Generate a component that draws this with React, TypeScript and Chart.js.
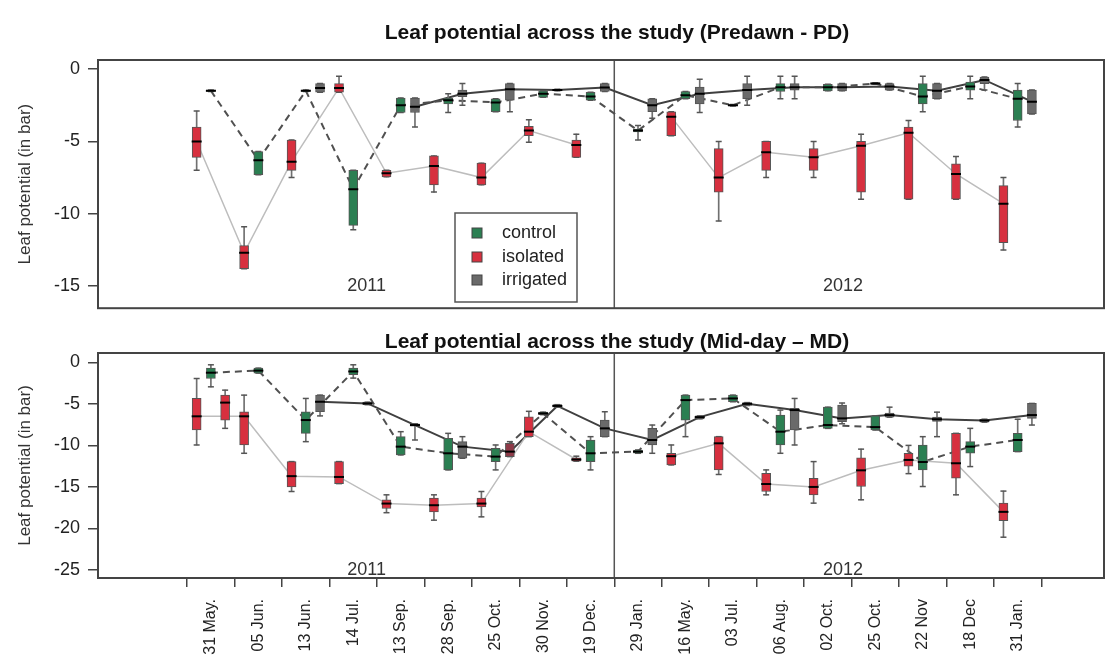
import React, { useEffect, useRef } from 'react';
import { Chart, registerables } from 'chart.js';

Chart.register(...registerables);
Chart.defaults.font.family = "'Liberation Sans', Arial, Helvetica, sans-serif";

// ---------- categories / ticks ----------
const dateLabels = [
  '31 May.', '05 Jun.', '13 Jun.', '14 Jul.', '13 Sep.', '28 Sep.', '25 Oct.', '30 Nov.', '19 Dec.',
  '29 Jan.', '16 May.', '03 Jul.', '06 Aug.', '02 Oct.', '25 Oct.', '22 Nov', '18 Dec', '31 Jan.',
];
const treatmentNames = ['control', 'isolated', 'irrigated'];
const topYTicks = [0, -5, -10, -15];
const bottomYTicks = [0, -5, -10, -15, -20, -25];
const yearLabels = ['2011', '2012'];
const yearCenters = [3.28, 13.32];
const yearBreak = 8.5;

// ---------- Predawn (PD) ----------
const pdIsoMed = [-5.0, -12.7, -6.4, -1.3, -7.2, -6.7, -7.5, -4.25, -5.25, null, -3.3, -7.5, -5.75, -6.1, -5.3, -4.4, -7.25, -9.3];
const pdIsoQ1 = [-6.1, -13.8, -7.0, -1.6, -7.45, -8.0, -8.0, -4.6, -6.1, null, -4.6, -8.5, -7.0, -7.0, -8.5, -9.0, -9.0, -12.0];
const pdIsoQ3 = [-4.0, -12.2, -4.9, -1.0, -7.0, -6.0, -6.5, -3.95, -4.9, null, -2.95, -5.5, -5.0, -5.5, -5.0, -4.0, -6.55, -8.05];
const pdIsoLo = [-7.0, -13.8, -7.5, -1.6, -7.45, -8.5, -8.0, -5.05, -6.1, null, -4.6, -10.5, -7.5, -7.5, -9.0, -9.0, -9.0, -12.5];
const pdIsoHi = [-2.9, -10.9, -4.9, -0.5, -7.0, -6.0, -6.5, -3.5, -4.5, null, -2.95, -5.0, -5.0, -5.0, -4.5, -3.55, -6.05, -7.5];

const pdConMed = [-1.5, -6.3, -1.5, -8.3, -2.5, -2.15, -2.3, -1.7, -1.9, -4.25, -1.8, -2.5, -1.25, -1.25, -1.0, -1.9, -1.2, -2.05];
const pdConQ1 = [-1.55, -7.3, -1.55, -10.8, -3.0, -2.4, -2.95, -1.95, -2.15, -4.35, -2.05, -2.55, -1.55, -1.5, -1.05, -2.4, -1.45, -3.55];
const pdConQ3 = [-1.45, -5.7, -1.45, -7.0, -2.0, -2.0, -2.05, -1.5, -1.6, -4.15, -1.55, -2.45, -1.0, -1.05, -0.95, -1.0, -0.9, -1.45];
const pdConLo = [-1.55, -7.3, -1.55, -11.1, -3.0, -3.0, -2.95, -1.95, -2.15, -4.9, -2.05, -2.55, -2.05, -1.5, -1.05, -2.95, -2.05, -4.0];
const pdConHi = [-1.45, -5.7, -1.45, -7.0, -2.0, -1.7, -2.05, -1.5, -1.6, -3.9, -1.55, -2.45, -0.5, -1.05, -0.95, -0.5, -0.5, -1.0];

const pdIrrMed = [null, null, -1.3, null, -2.6, -1.7, -1.4, -1.45, -1.27, -2.5, -1.7, -1.45, -1.25, -1.25, -1.2, -1.5, -0.75, -2.25];
const pdIrrQ1 = [null, null, -1.6, null, -3.0, -1.9, -2.15, -1.5, -1.55, -2.95, -2.4, -2.05, -1.45, -1.5, -1.45, -2.05, -1.0, -3.1];
const pdIrrQ3 = [null, null, -1.0, null, -2.0, -1.45, -1.0, -1.4, -1.0, -2.05, -1.25, -1.0, -1.0, -1.0, -1.0, -1.0, -0.55, -1.45];
const pdIrrLo = [null, null, -1.6, null, -4.0, -2.5, -2.95, -1.5, -1.55, -3.4, -3.0, -2.5, -2.05, -1.5, -1.45, -2.05, -1.45, -3.1];
const pdIrrHi = [null, null, -1.0, null, -2.0, -1.0, -1.0, -1.4, -1.0, -2.05, -0.7, -0.5, -0.5, -1.0, -1.0, -1.0, -0.55, -1.45];

// ---------- Mid-day (MD) ----------
const mdIsoMed = [-6.5, -6.5, -13.7, -13.8, -17.0, -17.2, -17.0, -8.35, -11.7, null, -11.3, -9.75, -14.65, -15.0, -13.0, -11.75, -12.15, -18.0];
const mdIsoQ1 = [-8.15, -9.95, -15.0, -14.6, -17.6, -18.0, -17.4, -8.95, -11.9, null, -12.35, -12.95, -15.55, -15.95, -14.95, -12.5, -13.95, -19.05];
const mdIsoQ3 = [-4.35, -5.95, -11.95, -11.95, -16.55, -16.35, -16.35, -6.55, -11.5, null, -10.95, -8.95, -13.35, -13.95, -11.5, -10.95, -8.55, -16.95];
const mdIsoLo = [-9.95, -10.95, -15.55, -14.6, -18.1, -19.0, -18.6, -8.95, -11.9, null, -12.35, -13.5, -15.95, -16.95, -16.55, -13.4, -15.95, -21.05];
const mdIsoHi = [-1.95, -3.95, -11.95, -11.95, -15.95, -15.95, -15.55, -5.9, -11.3, null, -9.95, -8.95, -12.95, -11.95, -10.45, -10.0, -8.55, -15.5];

const mdConMed = [-1.25, -1.0, -6.95, -1.1, -10.15, -10.95, -11.35, -6.15, -10.95, -10.75, -4.55, -4.35, -8.35, -7.55, -7.8, -12.0, -10.15, -9.35];
const mdConQ1 = [-1.95, -1.3, -8.55, -1.5, -11.15, -12.95, -11.95, -6.3, -11.95, -10.95, -6.95, -4.75, -9.95, -7.95, -8.15, -12.95, -10.95, -10.75];
const mdConQ3 = [-0.7, -0.7, -5.95, -0.7, -8.95, -9.15, -10.35, -6.0, -9.35, -10.55, -3.95, -3.95, -6.35, -5.4, -6.45, -9.95, -9.55, -8.55];
const mdConLo = [-2.95, -1.3, -9.55, -1.9, -11.15, -12.95, -12.95, -6.3, -12.95, -10.95, -8.95, -4.75, -10.95, -7.95, -8.15, -14.95, -12.55, -10.75];
const mdConHi = [-0.3, -0.7, -4.35, -0.3, -8.35, -8.55, -9.95, -6.0, -8.95, -10.55, -3.95, -3.95, -5.75, -5.4, -6.45, -8.95, -7.95, -6.85];

const mdIrrMed = [-4.85, null, -4.75, -4.95, -7.55, -10.15, -10.75, -5.25, -7.95, -9.35, -6.6, -5.0, -5.75, -6.75, -6.35, -6.85, -7.0, -6.35];
const mdIrrQ1 = [-6.95, null, -5.95, -5.1, -7.7, -11.55, -11.35, -5.4, -8.95, -9.95, -6.8, -5.2, -8.15, -7.15, -6.6, -7.1, -7.2, -6.75];
const mdIrrQ3 = [-3.95, null, -3.95, -4.8, -7.4, -9.55, -9.75, -5.1, -6.95, -7.95, -6.45, -4.85, -5.55, -5.15, -6.1, -6.6, -6.85, -4.95];
const mdIrrLo = [-7.95, null, -6.45, -5.1, -9.35, -11.55, -11.35, -5.4, -8.95, -10.95, -6.8, -5.2, -9.95, -7.4, -6.6, -8.95, -7.2, -7.55];
const mdIrrHi = [-3.35, null, -3.95, -4.8, -7.4, -8.95, -9.55, -5.1, -5.95, -7.55, -6.45, -4.85, -4.35, -4.9, -5.4, -6.0, -6.85, -4.95];

// ---------- styles ----------
const GREEN = '#2b7f52';
const RED = '#d7303f';
const GREY = '#6a6a6a';
const treatmentColors = [GREEN, RED, GREY];
const mdIrrFillOverride: Record<number, string> = { 0: RED, 6: '#8e3a48' };

type Arr = (number | null)[];
interface Series { med: Arr; q1: Arr; q3: Arr; lo: Arr; hi: Arr; }

function treatmentDatasets(
  s: Series,
  offset: number,
  fill: string,
  line: { color: string; width: number; dash: number[] },
  override: Record<number, string> = {},
) {
  const idx = dateLabels.map((_, i) => i);
  const pts = idx.filter((i) => s.med[i] !== null);
  return [
    {
      type: 'line',
      data: idx.map((i) => ({ x: i + offset, y: s.med[i] })),
      borderColor: line.color,
      borderWidth: line.width,
      borderDash: line.dash,
      pointRadius: 0,
      spanGaps: false,
      order: 10,
    },
    {
      type: 'bar',
      data: pts.map((i) => ({ x: i + offset, y: [s.lo[i], s.hi[i]] })),
      backgroundColor: '#707070',
      borderWidth: 0,
      barThickness: 1,
      maxBarThickness: 1,
      grouped: false,
      order: 8,
    },
    {
      type: 'line',
      showLine: false,
      data: pts.flatMap((i) => [{ x: i + offset, y: s.lo[i] }, { x: i + offset, y: s.hi[i] }]),
      pointStyle: 'line',
      pointRadius: 3,
      pointBorderColor: '#555',
      pointBorderWidth: 1.5,
      order: 7,
    },
    {
      type: 'bar',
      data: pts.map((i) => ({ x: i + offset, y: [s.q1[i], s.q3[i]], i })),
      backgroundColor: (ctx: any) => (ctx.raw && override[ctx.raw.i]) || fill,
      borderColor: '#555',
      borderWidth: 1,
      borderSkipped: false,
      barThickness: 9,
      maxBarThickness: 9,
      grouped: false,
      order: 6,
    },
    {
      type: 'line',
      showLine: false,
      data: pts.map((i) => ({ x: i + offset, y: s.med[i] })),
      pointStyle: 'line',
      pointRadius: 5,
      pointBorderColor: '#000',
      pointBorderWidth: 2,
      order: 4,
    },
  ];
}

const framePlugin = {
  id: 'frame',
  afterDatasetsDraw(chart: any) {
    const { ctx, chartArea: a } = chart;
    ctx.save();
    ctx.strokeStyle = '#444';
    ctx.lineWidth = 2;
    ctx.strokeRect(a.left, a.top, a.right - a.left, a.bottom - a.top);
    ctx.restore();
  },
};

function yearPlugin(yVal: number) {
  return {
    id: 'years',
    afterDatasetsDraw(chart: any) {
      const { ctx } = chart;
      const xs = chart.scales.x;
      const ys = chart.scales.y;
      ctx.save();
      ctx.fillStyle = '#333';
      ctx.font = "18px 'Liberation Sans', Arial, sans-serif";
      ctx.textAlign = 'center';
      ctx.textBaseline = 'middle';
      yearLabels.forEach((t, k) => {
        ctx.fillText(t, xs.getPixelForValue(yearCenters[k]), ys.getPixelForValue(yVal));
      });
      ctx.restore();
    },
  };
}

const legendPlugin = {
  id: 'boxLegend',
  afterDatasetsDraw(chart: any) {
    const { ctx, chartArea: a } = chart;
    const left = a.left + 357;
    const top = a.top + 153;
    ctx.save();
    ctx.fillStyle = '#fff';
    ctx.fillRect(left, top, 122, 89);
    ctx.strokeStyle = '#555';
    ctx.lineWidth = 1.5;
    ctx.strokeRect(left, top, 122, 89);
    ctx.font = "18px 'Liberation Sans', Arial, sans-serif";
    ctx.textBaseline = 'middle';
    ctx.textAlign = 'left';
    const rows = [20, 44, 67];
    treatmentNames.forEach((name, k) => {
      const y = top + rows[k];
      ctx.fillStyle = treatmentColors[k];
      ctx.fillRect(left + 17, y - 5, 10, 10);
      ctx.strokeStyle = '#444';
      ctx.lineWidth = 1;
      ctx.strokeRect(left + 17, y - 5, 10, 10);
      ctx.fillStyle = '#222';
      ctx.fillText(name, left + 47, y);
    });
    ctx.restore();
  },
};

function makeConfig(isTop: boolean): any {
  const iso: Series = isTop
    ? { med: pdIsoMed, q1: pdIsoQ1, q3: pdIsoQ3, lo: pdIsoLo, hi: pdIsoHi }
    : { med: mdIsoMed, q1: mdIsoQ1, q3: mdIsoQ3, lo: mdIsoLo, hi: mdIsoHi };
  const con: Series = isTop
    ? { med: pdConMed, q1: pdConQ1, q3: pdConQ3, lo: pdConLo, hi: pdConHi }
    : { med: mdConMed, q1: mdConQ1, q3: mdConQ3, lo: mdConLo, hi: mdConHi };
  const irr: Series = isTop
    ? { med: pdIrrMed, q1: pdIrrQ1, q3: pdIrrQ3, lo: pdIrrLo, hi: pdIrrHi }
    : { med: mdIrrMed, q1: mdIrrQ1, q3: mdIrrQ3, lo: mdIrrLo, hi: mdIrrHi };

  const yMin = isTop ? -16.53 : -25.96;
  const yMax = isTop ? 0.63 : 1.12;
  const yTicks = isTop ? topYTicks : bottomYTicks;

  const datasets = [
    {
      type: 'line',
      data: [{ x: yearBreak, y: yMax }, { x: yearBreak, y: yMin }],
      borderColor: '#555',
      borderWidth: 1.5,
      pointRadius: 0,
      order: 20,
    },
    ...treatmentDatasets(iso, -0.3, RED, { color: '#bdbdbd', width: 1.5, dash: [] }),
    ...treatmentDatasets(con, 0, GREEN, { color: '#505050', width: 2, dash: [7, 5] }),
    ...treatmentDatasets(irr, 0.3, GREY, { color: '#404040', width: 2, dash: [] }, isTop ? {} : mdIrrFillOverride),
  ];

  return {
    type: 'bar',
    data: { datasets },
    options: {
      responsive: false,
      animation: false,
      devicePixelRatio: 1,
      indexAxis: 'x',
      layout: { padding: { left: 0, right: 0, top: 0, bottom: 0 } },
      plugins: {
        legend: { display: false },
        tooltip: { enabled: false },
        title: {
          display: true,
          text: isTop
            ? 'Leaf potential across the study (Predawn - PD)'
            : 'Leaf potential across the study (Mid-day \u2013 MD)',
          color: '#111',
          font: { size: 21, weight: 'bold', lineHeight: 1 },
          padding: isTop ? { top: 23, bottom: 16 } : { top: 12, bottom: 0 },
        },
      },
      scales: {
        x: {
          type: 'linear',
          min: -1.79,
          max: 18.23,
          display: !isTop,
          afterBuildTicks: (s: any) => {
            s.ticks = dateLabels.map((_, i) => ({ value: i }));
          },
          afterFit: (s: any) => {
            s.height = isTop ? 0 : 86;
          },
          ticks: {
            autoSkip: false,
            minRotation: 90,
            maxRotation: 90,
            padding: 12,
            color: '#222',
            font: { size: 16 },
            callback: (v: any) => dateLabels[v] ?? '',
          },
          grid: { drawOnChartArea: false, drawTicks: true, tickLength: 9, color: '#444', lineWidth: 1.5 },
          border: { display: false },
        },
        y: {
          type: 'linear',
          position: 'left',
          min: yMin,
          max: yMax,
          afterBuildTicks: (s: any) => {
            s.ticks = yTicks.map((v) => ({ value: v }));
          },
          afterFit: (s: any) => {
            s.width = 98;
          },
          ticks: { color: '#222', font: { size: 18 }, padding: 8 },
          grid: { drawOnChartArea: false, drawTicks: true, tickLength: 10, color: '#444', lineWidth: 1.5 },
          border: { display: false },
          title: {
            display: true,
            text: 'Leaf potential (in bar)',
            color: '#333',
            font: { size: 17 },
            padding: { top: 15, bottom: 0 },
          },
        },
        y2: {
          type: 'linear',
          position: 'right',
          min: yMin,
          max: yMax,
          ticks: { display: false },
          grid: { display: false },
          border: { display: false },
          afterFit: (s: any) => {
            s.width = 130;
          },
        },
      },
    },
    plugins: isTop ? [framePlugin, yearPlugin(-15), legendPlugin] : [framePlugin, yearPlugin(-25)],
  };
}

export default function App() {
  const topRef = useRef<HTMLCanvasElement>(null);
  const botRef = useRef<HTMLCanvasElement>(null);

  useEffect(() => {
    const c1 = new Chart(topRef.current as HTMLCanvasElement, makeConfig(true));
    const c2 = new Chart(botRef.current as HTMLCanvasElement, makeConfig(false));
    return () => {
      c1.destroy();
      c2.destroy();
    };
  }, []);

  return (
    <div
      style={{
        position: 'fixed',
        left: 0,
        top: 0,
        width: 1118,
        height: 664,
        overflow: 'hidden',
        background: '#fff',
      }}
    >
      <canvas
        ref={topRef}
        width={1234}
        height={327}
        style={{ position: 'absolute', left: 0, top: 0, width: 1234, height: 327 }}
      />
      <canvas
        ref={botRef}
        width={1234}
        height={344}
        style={{ position: 'absolute', left: 0, top: 320, width: 1234, height: 344 }}
      />
    </div>
  );
}
